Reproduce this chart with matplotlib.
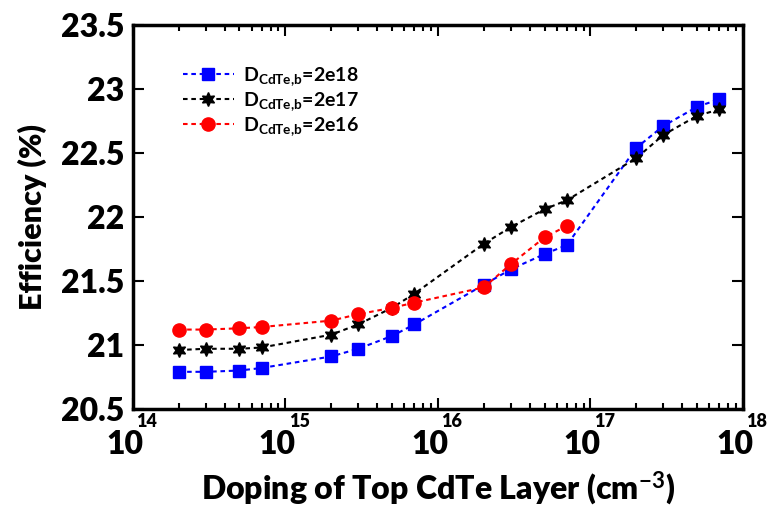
import numpy as np
import matplotlib.pyplot as plt
from matplotlib.ticker import FixedLocator, LogLocator, NullFormatter

plt.rcParams['font.family'] = ['Lato', 'DejaVu Sans']
plt.rcParams['font.weight'] = 'bold'
plt.rcParams['mathtext.fontset'] = 'custom'
plt.rcParams['mathtext.rm'] = 'Lato:bold'
plt.rcParams['mathtext.bf'] = 'Lato:bold'
plt.rcParams['mathtext.it'] = 'Lato:bold'

# doping of top CdTe layer (cm^-3)
doping = [2e14, 3e14, 5e14, 7e14, 2e15, 3e15, 5e15, 7e15,
          2e16, 3e16, 5e16, 7e16, 2e17, 3e17, 5e17, 7e17]

eff_2e18 = [20.79, 20.79, 20.80, 20.82, 20.91, 20.97, 21.07, 21.16,
            21.47, 21.59, 21.71, 21.78, 22.54, 22.71, 22.86, 22.92]
eff_2e17 = [20.96, 20.97, 20.97, 20.98, 21.08, 21.16, 21.29, 21.40,
            21.79, 21.92, 22.06, 22.13, 22.46, 22.64, 22.79, 22.84]
eff_2e16 = [21.12, 21.12, 21.13, 21.14, 21.19, 21.24, 21.29, 21.33,
            21.45, 21.63, 21.84, 21.93]

labels = [r'$\mathbf{D_{CdTe{,}b}}$=2e18',
          r'$\mathbf{D_{CdTe{,}b}}$=2e17',
          r'$\mathbf{D_{CdTe{,}b}}$=2e16']

x_major = [1e14, 1e15, 1e16, 1e17, 1e18]
x_exp = ['14', '15', '16', '17', '18']

fig = plt.figure(figsize=(7.68, 5.08), dpi=100)
ax = fig.add_axes([0.173, 0.195, 0.7945, 0.756])

dash = (0, (2.2, 1.8))
ax.plot(doping, eff_2e18, color='blue', ls=dash, lw=1.5, marker='s', ms=8, label=labels[0])
ax.plot(doping, eff_2e17, color='black', ls=dash, lw=1.5, marker=(6, 1, 0), ms=10, label=labels[1])
ax.plot(doping[:len(eff_2e16)], eff_2e16, color='red', ls=dash, lw=1.5, marker='o', ms=9.5, label=labels[2])

ax.set_xscale('log')
ax.set_xlim(1e14, 1e18)
ax.set_ylim(20.5, 23.5)

ax.xaxis.set_major_locator(FixedLocator(x_major))
ax.xaxis.set_major_formatter(NullFormatter())
ax.xaxis.set_minor_locator(LogLocator(base=10, subs=np.arange(2, 10)))
ax.xaxis.set_minor_formatter(NullFormatter())

# x tick labels: big "10" with raised exponent
for t, e in zip(x_major, x_exp):
    ax.annotate('10', xy=(t, 0), xycoords=('data', 'axes fraction'),
                xytext=(-6, -15), textcoords='offset points',
                ha='center', va='top', fontsize=23, fontweight='heavy')
    ax.annotate(e, xy=(t, 0), xycoords=('data', 'axes fraction'),
                xytext=(2.5, -3), textcoords='offset points',
                ha='left', va='top', fontsize=13, fontweight='heavy')

yt = np.arange(20.5, 23.51, 0.5)
ax.set_yticks(yt)
ax.set_yticklabels(['%g' % v for v in yt], fontweight='heavy')

ax.tick_params(which='both', direction='in', top=True, right=True, width=1.5)
ax.tick_params(which='major', length=8, labelsize=23, pad=6)
ax.tick_params(which='minor', length=4)
for s in ax.spines.values():
    s.set_linewidth(2.5)

ax.set_ylabel('Efficiency (%)', fontsize=22, fontweight='heavy', labelpad=10)
ax.set_xlabel(r'Doping of Top CdTe Layer (cm$^{\mathbf{-3}}$)', fontsize=23,
              fontweight='heavy', labelpad=37)

ax.legend(loc='upper left', bbox_to_anchor=(0.06, 0.93), frameon=False, fontsize=14,
          handlelength=2.6, handletextpad=0.5, labelspacing=0.1, borderpad=0.2)

fig.savefig('out.png', dpi=100)
